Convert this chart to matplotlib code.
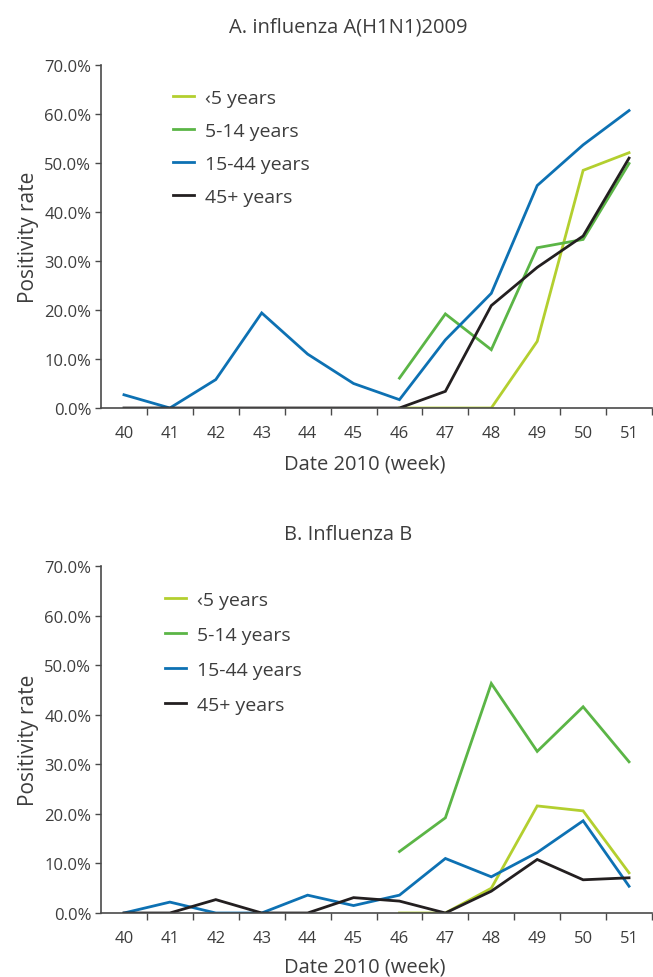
import matplotlib
matplotlib.use("Agg")
import matplotlib.pyplot as plt
from matplotlib.ticker import FuncFormatter, FixedLocator
import numpy as np

plt.rcParams['font.family'] = ['Open Sans', 'DejaVu Sans']

nan = np.nan
weeks = ['40', '41', '42', '43', '44', '45', '46', '47', '48', '49', '50', '51']
groups = ['\u20395 years', '5-14 years', '15-44 years', '45+ years']
colors = ['#b3cf2f', '#5bb546', '#0d71b3', '#231f20']

# panel A: influenza A(H1N1)2009, positivity rate (%)
a_under5 = [nan, nan, nan, nan, nan, nan, 0, 0, 0, 13.6, 48.5, 52.1]
a_5_14 = [nan, nan, nan, nan, nan, nan, 6.1, 19.2, 11.9, 32.7, 34.4, 49.9]
a_15_44 = [2.7, 0, 5.8, 19.4, 11.0, 5.0, 1.7, 13.9, 23.4, 45.4, 53.7, 60.7]
a_45plus = [0, 0, 0, 0, 0, 0, 0, 3.4, 20.9, 28.7, 35.1, 51.0]

# panel B: influenza B
b_under5 = [nan, nan, nan, nan, nan, nan, 0, 0, 5.0, 21.6, 20.6, 8.1]
b_5_14 = [nan, nan, nan, nan, nan, nan, 12.4, 19.2, 46.3, 32.6, 41.6, 30.5]
b_15_44 = [0, 2.2, 0, 0, 3.6, 1.5, 3.6, 11.0, 7.3, 12.2, 18.6, 5.4]
b_45plus = [0, 0, 2.7, 0, 0, 3.1, 2.4, 0, 4.4, 10.8, 6.7, 7.1]

W, H = 653, 978
fig = plt.figure(figsize=(W / 100, H / 100), dpi=100)
txt = '#3d3d3d'
axc = '#4a4a4a'


def px(x0, y0, x1, y1):
    return [x0 / W, 1 - y1 / H, (x1 - x0) / W, (y1 - y0) / H]


def panel(rect, series, title, title_y, xlabel_y, leg_xy, leg_space):
    ax = fig.add_axes(rect)
    x = np.arange(len(weeks))
    for s, c, lab in zip(series, colors, groups):
        ax.plot(x, s, color=c, lw=2.0, label=lab, solid_joinstyle='miter')
    ax.set_xlim(-0.5, len(weeks) - 0.5)
    ax.set_ylim(0, 70)
    ax.set_yticks(np.arange(0, 71, 10))
    ax.yaxis.set_major_formatter(FuncFormatter(lambda v, p: f'{v:.1f}%'))
    ax.set_xticks(x)
    ax.set_xticklabels(weeks)
    ax.xaxis.set_minor_locator(FixedLocator(np.arange(0.5, len(weeks) - 0.4, 1)))
    ax.tick_params(axis='x', which='major', length=0, pad=12, labelsize=12, colors=txt)
    ax.tick_params(axis='x', which='minor', length=5, width=1, color=axc, direction='out')
    ax.tick_params(axis='y', length=4, width=1, color=axc, pad=3, labelsize=12, labelcolor=txt)
    for sp in ['top', 'right']:
        ax.spines[sp].set_visible(False)
    for sp in ['left', 'bottom']:
        ax.spines[sp].set_color(axc)
        ax.spines[sp].set_linewidth(1.2)
    ax.set_ylabel('Positivity rate', fontsize=15, color=txt, labelpad=4)
    fig.text(348 / W, 1 - title_y / H, title, ha='center', va='center', fontsize=14.5, color=txt)
    fig.text(365 / W, 1 - xlabel_y / H, 'Date 2010 (week)', ha='center', va='center', fontsize=14.5, color=txt)
    ax.legend(loc='upper left', bbox_to_anchor=(leg_xy[0] / W, 1 - leg_xy[1] / H),
              bbox_transform=fig.transFigure, frameon=False, fontsize=14,
              handlelength=1.1, handletextpad=0.55, labelspacing=leg_space,
              borderpad=0, borderaxespad=0, labelcolor=txt)
    return ax


panel(px(101, 66, 652, 409), [a_under5, a_5_14, a_15_44, a_45plus],
      'A. influenza A(H1N1)2009', 28, 465, (173, 90), 0.77)
panel(px(101, 567, 652, 914), [b_under5, b_5_14, b_15_44, b_45plus],
      'B. Influenza B', 535, 968, (165, 592), 0.87)

fig.savefig('out.png', dpi=100)
